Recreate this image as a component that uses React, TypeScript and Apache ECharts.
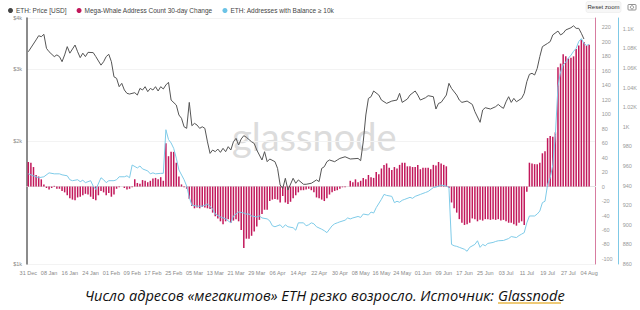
import React, { useEffect, useRef } from 'react';
import * as echarts from 'echarts';

// ---- categories (daily, 31 Dec -> 05 Aug) ----
const MONTHS = ['Jan', 'Feb', 'Mar', 'Apr', 'May', 'Jun', 'Jul', 'Aug', 'Sep', 'Oct', 'Nov', 'Dec'];
const MONTH_LEN = [31, 28, 31, 30, 31, 30, 31, 31, 30, 31, 30, 31];
const DAY_COUNT = 219;
function buildDates(): string[] {
  const out: string[] = [];
  let m = 11;
  let d = 31;
  for (let i = 0; i < DAY_COUNT; i++) {
    out.push((d < 10 ? '0' : '') + d + ' ' + MONTHS[m]);
    d++;
    if (d > MONTH_LEN[m]) { d = 1; m = (m + 1) % 12; }
  }
  return out;
}
const dates = buildDates();

// ---- Mega-Whale Address Count 30-day Change (daily, from 31 Dec) ----
const whaleChange = [
  34, 33, 27, 16, 14, 10, 3, -2, -4, -2, 1, -3, -3, -6, -8, -12, -16, -18, -19, -15,
  -14, -12, -10, -11, -14, -17, -19, -12, -6, -8, -12, -9, -14, -11, -3, -1, 0, -2, -4, -3,
  -1, 10, 5, 4, 9, 8, 6, 8, 11, 12, 10, 13, 8, 60, 42, 48, 48, 33, 14, 3,
  -1, -3, -17, -27, -30, -29, -30, -28, -29, -30, -31, -36, -41, -44, -48, -52, -48, -45, -50, -47,
  -45, -48, -60, -85, -72, -72, -68, -62, -55, -46, -38, -32, -32, -20, -18, -17, -18, -22, -13, -22,
  -24, -21, -16, -12, -8, -5, -5, -4, -3, -5, -8, -15, -16, -18, -20, -16, -11, -8, -6, -5,
  -3, -1, -1, 0, 8, 6, 10, 6, 8, 12, 10, 16, 13, 12, 20, 17, 25, 30, 32, 26,
  23, 27, 25, 30, 33, 33, 28, 28, 27, 27, 30, 24, 26, 26, 26, 24, 30, 29, 34, 32,
  30, 28, -2, -22, -30, -36, -45, -50, -53, -52, -50, -44, -45, -48, -46, -47, -45, -45, -46, -45,
  -46, -45, -47, -46, -48, -50, -50, -52, -54, -50, -48, -53, -7, 33, 32, 31, 31, 33, 46, 49,
  67, 70, 69, 75, 165, 170, 183, 180, 177, 178, 180, 190, 195, 203, 200, 195, 196,
];

// ---- ETH: Price [USD] (day offset from 31 Dec, value) ----
const priceDay = [
  0, 3, 4, 5, 6, 7, 8, 10, 11, 12, 13, 14, 15, 16, 18, 19, 20, 21, 22, 23,
  25, 26, 28, 29, 30, 31, 32, 33, 34, 35, 36, 37, 38, 39, 41, 42, 43, 44, 45, 46,
  47, 48, 49, 50, 51, 52, 53, 54, 55, 57, 58, 59, 60, 61, 62, 63, 64, 65, 66, 67,
  68, 69, 70, 71, 72, 73, 74, 75, 76, 77, 78, 79, 80, 81, 82, 83, 84, 86, 87, 88,
  89, 90, 91, 92, 93, 95, 96, 97, 98, 99, 100, 102, 103, 104, 106, 107, 109, 111, 112, 113,
  114, 115, 116, 118, 119, 120, 122, 124, 127, 128, 129, 130, 131, 132, 133, 135, 136, 138, 140, 142,
  143, 144, 146, 147, 149, 150, 151, 153, 154, 156, 157, 158, 159, 161, 162, 163, 165, 166, 167, 169,
  171, 172, 174, 175, 176, 178, 180, 181, 182, 183, 184, 185, 186, 187, 188, 190, 191, 192, 193, 194,
  195, 196, 197, 198, 200, 201, 202, 204, 205, 206, 207, 209, 210, 211, 212, 213, 214,
];
const priceUsd = [
  3307, 3536, 3620, 3600, 3649, 3371, 3307, 3218, 3249, 3218, 3127, 3249, 3404, 3281, 3435, 3307, 3199, 3281, 3218, 3296,
  3291, 3218, 3067, 3127, 3218, 3260, 3127, 2872, 2847, 2716, 2768, 2666, 2616, 2606, 2626, 2591, 2690, 2666, 2716, 2641,
  2690, 2666, 2716, 2651, 2716, 2681, 2743, 2784, 2519, 2449, 2316, 2273, 2167, 2148, 2486, 2180, 2209, 2188, 2148, 2167,
  2148, 1991, 1865, 1901, 1883, 1911, 1876, 1919, 1883, 1937, 1901, 1991, 2030, 1955, 2023, 2061, 2042, 1991, 1973, 1901,
  1848, 1797, 1883, 1780, 1807, 1780, 1714, 1561, 1531, 1621, 1517, 1621, 1576, 1606, 1567, 1567, 1576, 1606, 1591, 1714,
  1730, 1780, 1797, 1780, 1797, 1813, 1830, 1807, 1813, 1790, 1991, 2316, 2543, 2567, 2651, 2591, 2519, 2472, 2505, 2519,
  2616, 2486, 2534, 2591, 2651, 2591, 2519, 2553, 2582, 2567, 2395, 2472, 2486, 2591, 2768, 2690, 2591, 2519, 2486, 2505,
  2458, 2360, 2222, 2382, 2413, 2395, 2427, 2458, 2427, 2404, 2495, 2567, 2486, 2543, 2495, 2543, 2616, 2794, 2912, 2929,
  2901, 3011, 3218, 3404, 3467, 3502, 3636, 3716, 3636, 3670, 3740, 3786, 3828, 3773, 3773, 3670, 3553,
];

// ---- ETH: Addresses with Balance >= 10k (day offset, value) ----
const balanceDay = [
  0, 2, 4, 6, 8, 10, 12, 13, 15, 16, 17, 19, 20, 21, 22, 24, 25, 26, 28, 29,
  30, 31, 33, 34, 35, 37, 38, 39, 40, 42, 43, 44, 46, 47, 48, 49, 51, 52, 53, 54,
  55, 56, 57, 58, 60, 61, 62, 63, 65, 66, 67, 69, 70, 71, 72, 74, 75, 76, 78, 79,
  80, 81, 83, 84, 85, 86, 88, 89, 90, 92, 93, 94, 95, 97, 98, 99, 100, 102, 103, 104,
  106, 107, 108, 109, 110, 111, 113, 114, 115, 117, 118, 119, 120, 122, 123, 124, 125, 127, 128, 129,
  131, 132, 133, 134, 136, 137, 138, 140, 141, 142, 143, 144, 145, 147, 148, 149, 151, 152, 153, 154,
  156, 157, 158, 159, 161, 162, 163, 164, 165, 166, 168, 169, 170, 172, 173, 174, 175, 176, 177, 179,
  180, 181, 183, 184, 185, 186, 188, 189, 190, 191, 192, 193, 195, 196, 197, 198, 199, 200, 201, 202,
  203, 204, 205, 206, 207, 208, 209, 210, 211, 212, 213, 214, 215, 216,
];
const balanceCount = [
  952, 950, 948, 949, 953, 952, 952, 951, 950, 946, 945, 946, 944, 945.5, 943, 945, 939.5, 936, 948, 946,
  943, 945, 945, 946, 949, 949, 950, 948, 961, 958, 960, 957, 955, 952, 953, 952, 952.5, 952.5, 997, 987,
  983.5, 978, 968, 956, 946, 939.5, 928, 920, 919, 919, 919, 921, 919, 916, 911, 908, 907, 906, 902, 909,
  911, 913, 912, 911, 911, 909, 908, 909, 907, 906, 904, 899, 898, 900, 897, 900, 898, 897, 894.5, 902,
  902, 899, 900, 902, 901, 898, 895.5, 894, 892, 899, 901, 902, 903, 904.7, 907, 906, 907, 908.5, 907.5, 911,
  910, 913, 912, 917.5, 926, 931, 930, 929, 922.6, 924, 923, 925, 926, 928, 927, 929, 931, 932, 933, 934,
  938, 938.5, 939.5, 940.5, 939.5, 938, 880, 878.6, 878, 877, 875, 873, 877, 880, 883.7, 877, 880, 878.6, 881, 882,
  883, 883.7, 884, 885, 886, 888, 887, 889, 890.5, 892, 902, 909, 909, 911, 914, 922.6, 924, 941, 948, 961,
  992, 1041, 1056, 1063, 1066, 1070, 1073, 1077, 1080, 1087, 1090, 1085, 1083, 1084,
];

// ---- axis tick labels ----
const priceTicks = [1000, 2000, 3000, 4000];
const whaleTicks = [-100, -80, -60, -40, -20, 0, 20, 40, 60, 80, 100, 120, 140, 160, 180, 200, 220];
const balanceTicks = [860, 880, 900, 920, 940, 960, 980, 1000, 1020, 1040, 1060, 1080, 1100];

const NAME_PRICE = 'ETH: Price [USD]';
const NAME_WHALE = 'Mega-Whale Address Count 30-day Change';
const NAME_BAL = 'ETH: Addresses with Balance ≥ 10k';

const FONT = "'Liberation Sans', Arial, sans-serif";
const CAPTION_FONT = "'Open Sans', sans-serif";

export default function App() {
  const ref = useRef<HTMLDivElement>(null);
  useEffect(() => {
    if (!ref.current) return;
    const chart = echarts.init(ref.current, null, { renderer: 'svg' });
    const option: any = {
      animation: false,
      backgroundColor: '#ffffff',
      textStyle: { fontFamily: FONT },
      legend: {
        left: 3,
        top: 2,
        itemWidth: 5,
        itemHeight: 5,
        itemGap: 10,
        icon: 'circle',
        textStyle: { fontSize: 6.5, color: '#444', fontFamily: FONT, padding: [0, 0, 0, -2] },
        data: [NAME_PRICE, NAME_WHALE, NAME_BAL],
      },
      grid: { left: 27, right: 43, top: 18, bottom: 46 },
      xAxis: {
        type: 'category',
        data: dates,
        boundaryGap: true,
        axisLine: { show: true, lineStyle: { color: '#e4e4e4', width: 1 } },
        axisTick: { show: false },
        axisLabel: { interval: 7, fontSize: 5.5, color: '#888', margin: 6, fontFamily: FONT },
        splitLine: { show: false },
      },
      yAxis: [
        {
          type: 'log',
          logBase: 10,
          min: 1000,
          max: 4000,
          position: 'left',
          axisLine: { show: true, lineStyle: { color: '#666', width: 1.5 } },
          axisTick: { show: false, customValues: priceTicks },
          axisLabel: {
            customValues: priceTicks,
            fontSize: 5.5,
            color: '#888',
            margin: 5,
            formatter: (v: number) => '$' + Math.round(v / 1000) + 'k',
          },
          splitLine: { show: true, lineStyle: { color: '#f3f3f3', width: 1 } },
        },
        {
          type: 'value',
          min: -107,
          max: 233,
          position: 'right',
          axisLine: { show: true, lineStyle: { color: '#d77ca0', width: 1 } },
          axisTick: { show: false, customValues: whaleTicks },
          axisLabel: { customValues: whaleTicks, fontSize: 5.5, color: '#999', margin: 6 },
          splitLine: { show: false },
        },
        {
          type: 'value',
          min: 860,
          max: 1111,
          position: 'right',
          offset: 23,
          axisLine: { show: true, lineStyle: { color: '#7fc9e6', width: 1 } },
          axisTick: { show: false, customValues: balanceTicks },
          axisLabel: {
            customValues: balanceTicks,
            fontSize: 5.5,
            color: '#999',
            margin: 4,
            formatter: (v: number) => (v >= 1000 ? v / 1000 + 'K' : String(v)),
          },
          splitLine: { show: false },
        },
      ],
      series: [
        {
          name: NAME_PRICE,
          type: 'line',
          yAxisIndex: 0,
          data: priceDay.map((d, i) => [dates[d], priceUsd[i]]),
          showSymbol: false,
          symbol: 'circle',
          itemStyle: { color: '#444' },
          lineStyle: { color: '#555', width: 1 },
          z: 4,
        },
        {
          name: NAME_WHALE,
          type: 'bar',
          yAxisIndex: 1,
          data: whaleChange,
          barWidth: '58%',
          itemStyle: { color: '#c2185b' },
          z: 2,
        },
        {
          name: NAME_BAL,
          type: 'line',
          yAxisIndex: 2,
          data: balanceDay.map((d, i) => [dates[d], balanceCount[i]]),
          showSymbol: false,
          symbol: 'circle',
          itemStyle: { color: '#6cc3e6' },
          lineStyle: { color: '#7fcbe8', width: 1 },
          z: 3,
        },
      ],
      graphic: [
        {
          type: 'text',
          left: 232,
          top: 117,
          z: -10,
          style: { text: 'glassnode', fontSize: 38, fontFamily: "'Lato', sans-serif", fill: '#dcdcdc' },
        },
        {
          type: 'rect',
          shape: { x: 586, y: 1.5, width: 35, height: 11, r: 2 },
          style: { fill: '#f7f7f7', stroke: '#e6e6e6', lineWidth: 0.5 },
        },
        {
          type: 'text',
          x: 603.5,
          y: 7,
          style: { text: 'Reset zoom', fontSize: 6, fill: '#333', align: 'center', verticalAlign: 'middle', fontFamily: FONT },
        },
        {
          type: 'rect',
          shape: { x: 628, y: 4.5, width: 8, height: 5.5, r: 0.8 },
          style: { fill: 'none', stroke: '#777', lineWidth: 0.8 },
        },
        {
          type: 'circle',
          shape: { cx: 632, cy: 7.3, r: 1.6 },
          style: { fill: 'none', stroke: '#777', lineWidth: 0.8 },
        },
        {
          type: 'text',
          x: 494,
          y: 295,
          style: {
            text: 'Число адресов «мегакитов» ETH резко возросло. Источник:',
            fontSize: 14.6,
            fontStyle: 'italic',
            fontFamily: CAPTION_FONT,
            fill: '#111',
            align: 'right',
            verticalAlign: 'middle',
          },
        },
        {
          type: 'text',
          x: 498,
          y: 295,
          style: {
            text: 'Glassnode',
            fontSize: 14.6,
            fontStyle: 'italic',
            fontFamily: CAPTION_FONT,
            fill: '#111',
            align: 'left',
            verticalAlign: 'middle',
          },
        },
        {
          type: 'line',
          shape: { x1: 498, y1: 303, x2: 561, y2: 303 },
          style: { stroke: '#e8b84a', lineWidth: 1.5 },
        },
      ],
    };
    chart.setOption(option);
    return () => chart.dispose();
  }, []);
  return <div ref={ref} style={{ position: 'absolute', left: 0, top: 0, width: 640, height: 310 }} />;
}
